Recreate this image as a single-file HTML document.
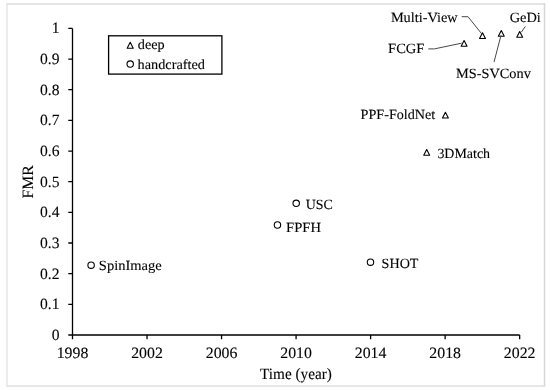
<!DOCTYPE html>
<html><head><meta charset="utf-8"><style>
html,body{margin:0;padding:0;background:#fff;width:550px;height:390px;overflow:hidden}
svg{display:block;will-change:transform}
text{font-family:"Liberation Serif",serif;text-rendering:geometricPrecision;fill:#000;stroke:#000;stroke-width:0.1}
.ax{font-size:15px}
.lb{font-size:14px}
.tri{fill:none;stroke:#000;stroke-width:1.1;stroke-linejoin:round}
.cir{fill:none;stroke:#000;stroke-width:1.1}
</style></head><body>
<svg width="550" height="390" viewBox="0 0 550 390">
<path d="M6.3 4H545.2" stroke="#dcdcdc" stroke-width="1.5"/>
<path d="M544.5 3.3V386.7" stroke="#d6d6d6" stroke-width="1.5"/>
<path d="M6.3 386H545.2" stroke="#dedede" stroke-width="1.5"/>
<path d="M7 3.3V386.7" stroke="#e6e6e6" stroke-width="1.5"/>
<path d="M72.5 28.4 V335.0 H519.67" fill="none" stroke="#000" stroke-width="1.3"/>
<path d="M68.30 335.00H72.5M68.30 304.34H72.5M68.30 273.68H72.5M68.30 243.02H72.5M68.30 212.36H72.5M68.30 181.70H72.5M68.30 151.04H72.5M68.30 120.38H72.5M68.30 89.72H72.5M68.30 59.06H72.5M68.30 28.40H72.5M72.50 335.0V339.20M147.03 335.0V339.20M221.56 335.0V339.20M296.08 335.0V339.20M370.61 335.0V339.20M445.14 335.0V339.20M519.67 335.0V339.20" fill="none" stroke="#000" stroke-width="1.3"/>
<text transform="translate(59.5 339.95) scale(1.04 1.05)" text-anchor="end" class="ax">0</text>
<text transform="translate(59.5 309.29) scale(1.04 1.05)" text-anchor="end" class="ax">0.1</text>
<text transform="translate(59.5 278.63) scale(1.04 1.05)" text-anchor="end" class="ax">0.2</text>
<text transform="translate(59.5 247.97) scale(1.04 1.05)" text-anchor="end" class="ax">0.3</text>
<text transform="translate(59.5 217.31) scale(1.04 1.05)" text-anchor="end" class="ax">0.4</text>
<text transform="translate(59.5 186.65) scale(1.04 1.05)" text-anchor="end" class="ax">0.5</text>
<text transform="translate(59.5 155.99) scale(1.04 1.05)" text-anchor="end" class="ax">0.6</text>
<text transform="translate(59.5 125.33) scale(1.04 1.05)" text-anchor="end" class="ax">0.7</text>
<text transform="translate(59.5 94.67) scale(1.04 1.05)" text-anchor="end" class="ax">0.8</text>
<text transform="translate(59.5 64.01) scale(1.04 1.05)" text-anchor="end" class="ax">0.9</text>
<text transform="translate(59.5 33.35) scale(1.04 1.05)" text-anchor="end" class="ax">1</text>
<text transform="translate(72.50 357.8) scale(1.057 1.05)" text-anchor="middle" class="ax">1998</text>
<text transform="translate(147.03 357.8) scale(1.057 1.05)" text-anchor="middle" class="ax">2002</text>
<text transform="translate(221.56 357.8) scale(1.057 1.05)" text-anchor="middle" class="ax">2006</text>
<text transform="translate(296.08 357.8) scale(1.057 1.05)" text-anchor="middle" class="ax">2010</text>
<text transform="translate(370.61 357.8) scale(1.057 1.05)" text-anchor="middle" class="ax">2014</text>
<text transform="translate(445.14 357.8) scale(1.057 1.05)" text-anchor="middle" class="ax">2018</text>
<text transform="translate(519.67 357.8) scale(1.057 1.05)" text-anchor="middle" class="ax">2022</text>
<text transform="translate(296.0 378.8) scale(1.016 1.05)" text-anchor="middle" class="ax">Time (year)</text>
<text transform="translate(33.0 181.8) rotate(-90)" text-anchor="middle" class="ax" style="font-size:15.8px">FMR</text>
<circle cx="91.10" cy="265.15" r="3.2" class="cir"/>
<circle cx="277.45" cy="225.00" r="3.2" class="cir"/>
<circle cx="296.20" cy="203.35" r="3.2" class="cir"/>
<circle cx="370.50" cy="262.15" r="3.2" class="cir"/>
<path d="M426.70 149.50L429.65 155.20H423.75Z" class="tri"/>
<path d="M445.40 112.35L448.35 118.05H442.45Z" class="tri"/>
<path d="M464.10 40.50L467.05 46.20H461.15Z" class="tri"/>
<path d="M482.50 32.75L485.45 38.45H479.55Z" class="tri"/>
<path d="M501.30 30.50L504.25 36.20H498.35Z" class="tri"/>
<path d="M519.70 31.50L522.65 37.20H516.75Z" class="tri"/>
<path d="M461.7 16.7H468L482 34.2M428.3 48.9H434.4L461.5 43.2M494 62.1L501 35.3M525.4 26.4L521.3 32.2" fill="none" stroke="#484848" stroke-width="1"/>
<text transform="translate(98.86 270.4) scale(1.036 1)" class="lb">SpinImage</text>
<text transform="translate(286.04 231.5) scale(1.042 1)" class="lb">FPFH</text>
<text transform="translate(305.7 209.0) scale(0.996 1)" class="lb">USC</text>
<text transform="translate(381.59 267.6) scale(1.008 1)" class="lb">SHOT</text>
<text transform="translate(437.4 157.9) scale(0.996 1)" class="lb">3DMatch</text>
<text transform="translate(360.59 119.4) scale(1.01 1)" class="lb">PPF-FoldNet</text>
<text transform="translate(388.06 53.2) scale(1.039 1)" class="lb">FCGF</text>
<text transform="translate(390.88 22.1) scale(1.023 1)" class="lb">Multi-View</text>
<text transform="translate(456.08 77.9) scale(1.022 1)" class="lb">MS-SVConv</text>
<text transform="translate(509.68 22.1) scale(1.028 1)" class="lb">GeDi</text>
<rect x="108.6" y="35.8" width="113.3" height="38.3" fill="#fff" stroke="#000" stroke-width="1.3"/>
<path d="M130.20 42.36L133.24 48.24H127.16Z" class="tri"/>
<circle cx="130.20" cy="64.10" r="3.2" class="cir"/>
<text transform="translate(137.8 49.3) scale(1.015 1)" class="lb">deep</text>
<text transform="translate(137.6 68.5) scale(1.02 1)" class="lb">handcrafted</text>
</svg>
</body></html>
